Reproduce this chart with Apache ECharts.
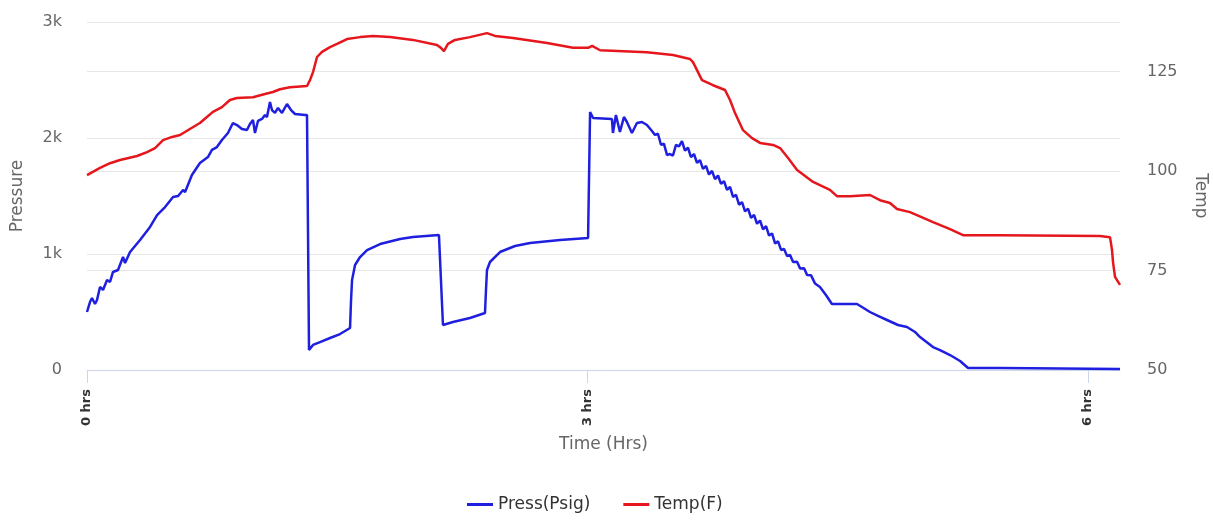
<!DOCTYPE html>
<html>
<head>
<meta charset="utf-8">
<script src="https://cdn.jsdelivr.net/npm/echarts@6/dist/echarts.min.js"></script>
<style>
html,body{margin:0;padding:0;background:#fff;}
#chart{width:1213px;height:521px;}
</style>
</head>
<body>
<div id="chart"></div>
<script>
// Time in hours
var pressTime = [0.000,0.018,0.030,0.048,0.060,0.078,0.096,0.120,0.138,0.156,0.186,0.216,0.228,0.258,0.318,0.378,0.420,0.468,0.516,0.546,0.576,0.588,0.629,0.677,0.725,0.749,0.779,0.809,0.845,0.875,0.899,0.929,0.959,0.977,0.995,1.007,1.025,1.049,1.067,1.079,1.097,1.109,1.127,1.145,1.169,1.199,1.223,1.247,1.307,1.319,
1.331,1.355,1.397,1.457,1.517,1.577,1.583,1.589,1.607,1.637,1.679,1.757,1.877,1.954,2.110,2.122,2.134,2.194,2.296,2.386,2.392,2.398,2.416,2.476,2.566,2.656,2.836,3.004,
3.016,3.034,3.147,3.153,3.171,3.195,3.219,3.237,3.267,3.297,3.327,3.357,3.387,
3.405,3.423,3.441,3.459,3.477,3.495,3.513,3.531,3.549,3.567,3.585,3.603,3.621,3.639,3.657,3.675,3.693,3.711,3.729,3.747,3.765,3.783,3.801,3.819,3.837,3.855,3.873,3.891,3.909,3.927,3.945,3.963,3.981,3.999,4.017,4.035,4.053,4.071,4.089,4.107,4.125,4.143,4.161,4.179,4.197,4.215,4.233,4.257,4.275,4.299,4.317,4.341,4.365,4.394,4.430,4.466,
4.616,4.646,4.694,4.742,4.796,4.862,4.916,4.964,4.994,5.072,5.114,5.174,5.234,5.282,5.474,6.193];
var pressValue = [500,586,621,569,603,716,690,776,759,845,862,974,922,1017,1121,1233,1336,1405,1491,1500,1552,1534,1681,1785,1836,1897,1922,1983,2043,2129,2112,2078,2069,2121,2155,2043,2147,2164,2198,2181,2310,2241,2216,2259,2216,2293,2241,2207,2198,2198,
172,216,241,276,310,362,603,776,905,974,1034,1086,1129,1147,1164,776,388,414,448,491,690,862,931,1017,1069,1095,1121,1138,
2224,2172,2164,2043,2198,2052,2181,2138,2043,2129,2138,2112,2060,
2027,2037,1942,1950,1854,1862,1849,1940,1927,1972,1892,1916,1836,1862,1785,1810,1733,1759,1685,1717,1645,1677,1604,1629,1552,1578,1492,1510,1425,1447,1367,1391,1312,1337,1261,1289,1213,1241,1159,1177,1091,1109,1035,1043,983,991,931,934,875,878,819,816,745,716,647,569,
569,543,500,466,431,388,371,328,284,198,172,129,78,17,17,9];

var tempTime = [0.000,0.078,0.138,0.198,0.300,0.360,0.408,0.456,0.510,0.558,0.617,0.677,0.719,0.755,0.809,0.857,0.899,0.995,1.067,1.115,1.157,1.217,1.319,1.337,1.355,1.379,1.409,1.457,1.499,1.559,1.637,1.715,1.817,1.954,2.098,2.122,2.140,2.164,2.206,2.296,2.398,2.446,2.554,2.758,2.914,3.004,3.028,3.076,3.357,3.513,3.615,3.633,3.657,3.687,3.753,3.825,3.855,3.885,3.933,3.987,4.035,4.113,4.155,4.203,4.257,4.353,4.454,4.496,4.574,4.694,4.754,4.814,4.856,4.934,5.072,5.174,5.252,5.474,6.073,6.133,6.145,6.151,6.163,6.193];
var tempValue = [99.0,100.8,102.0,102.8,103.8,104.8,105.8,107.8,108.6,109.1,110.6,112.1,113.6,114.9,116.1,117.9,118.4,118.6,119.4,119.9,120.6,121.1,121.4,122.9,124.9,128.7,130.0,131.2,132.0,133.2,133.7,134.0,133.7,133.0,131.7,131.0,130.2,132.0,133.0,133.7,134.7,134.0,133.5,132.2,131.0,131.0,131.5,130.4,129.9,129.2,128.2,127.4,125.4,122.9,121.6,120.4,117.9,114.6,110.3,108.3,107.1,106.6,105.8,103.3,100.3,97.3,95.3,93.7,93.7,94.0,92.7,92.0,90.5,89.7,87.2,85.4,83.9,83.9,83.7,83.4,80.2,77.2,73.4,71.4];

var xTicks = [0, 3, 6];
var pressTicks = [0, 1000, 2000, 3000];
var tempTicks = [50, 75, 100, 125];

function zip(a, b) { return a.map(function (t, i) { return [t, b[i]]; }); }

var FONT = 'DejaVu Sans';
var chart = echarts.init(document.getElementById('chart'), null, {renderer: 'canvas'});
chart.setOption({
  animation: false,
  backgroundColor: '#ffffff',
  grid: {left: 87, right: 93, top: 22, bottom: 151, containLabel: false, outerBoundsMode: 'none'},
  legend: {
    left: 462, top: 491,
    icon: 'rect', itemWidth: 26, itemHeight: 3, itemGap: 33,
    textStyle: {fontFamily: FONT, fontSize: 17, color: '#333333'},
    data: ['Press(Psig)', 'Temp(F)']
  },
  xAxis: {
    type: 'value', min: 0, max: 6.193, interval: 3,
    name: 'Time (Hrs)', nameLocation: 'middle', nameGap: 66,
    nameTextStyle: {fontFamily: FONT, fontSize: 17, color: '#666666'},
    axisLine: {show: true, lineStyle: {color: '#ccd6eb', width: 1}},
    axisTick: {show: true, length: 13, customValues: xTicks, lineStyle: {color: '#ccd6eb'}},
    axisLabel: {show: true, customValues: xTicks, rotate: 90, margin: 19,
      fontFamily: FONT, fontSize: 13, fontWeight: 'bold', color: '#333333',
      formatter: function (v) { return v + ' hrs'; }},
    splitLine: {show: false}
  },
  yAxis: [{
    type: 'value', min: 0, max: 3000, interval: 1000,
    name: 'Pressure', nameLocation: 'middle', nameGap: 61,
    nameTextStyle: {fontFamily: FONT, fontSize: 17, color: '#666666'},
    axisLine: {show: false}, axisTick: {show: false},
    axisLabel: {customValues: pressTicks, margin: 25, fontFamily: FONT, fontSize: 16, color: '#666666',
      formatter: function (v) { return v === 0 ? '0' : (v / 1000) + 'k'; }},
    splitLine: {show: true, lineStyle: {color: '#e6e6e6', width: 1}}
  }, {
    type: 'value', min: 50, max: 137.5, interval: 25, position: 'right',
    name: 'Temp', nameLocation: 'middle', nameGap: 72, nameRotate: -90,
    nameTextStyle: {fontFamily: FONT, fontSize: 17, color: '#666666'},
    axisLine: {show: false}, axisTick: {show: false},
    axisLabel: {customValues: tempTicks, margin: 27, fontFamily: FONT, fontSize: 16, color: '#666666'},
    splitLine: {show: true, lineStyle: {color: '#e6e6e6', width: 1}}
  }],
  series: [{
    name: 'Press(Psig)', type: 'line', yAxisIndex: 0,
    showSymbol: false, symbol: 'none',
    lineStyle: {color: '#1f1fe0', width: 2.5},
    itemStyle: {color: '#1f1fe0'},
    data: zip(pressTime, pressValue)
  }, {
    name: 'Temp(F)', type: 'line', yAxisIndex: 1,
    showSymbol: false, symbol: 'none',
    lineStyle: {color: '#e5171d', width: 2.5},
    itemStyle: {color: '#e5171d'},
    data: zip(tempTime, tempValue)
  }]
});
</script>
</body>
</html>
